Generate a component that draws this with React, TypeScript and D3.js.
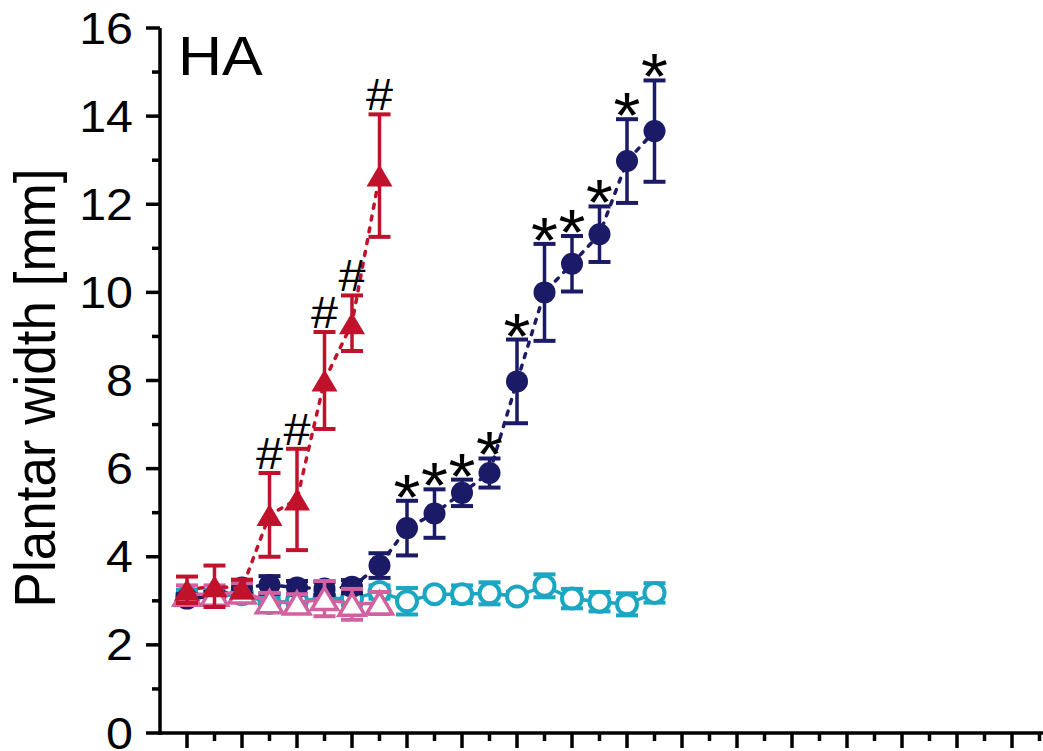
import React from "react";
import * as d3 from "d3";

const W = 1043;
const H = 751;

// x categories (time points)
const navyDays = [0, 1, 2, 3, 4, 5, 6, 7, 8, 9, 10, 11, 12, 13, 14, 15, 16, 17];
const navyMean = [3.05, 3.1, 3.3, 3.36, 3.3, 3.28, 3.32, 3.8, 4.65, 4.98, 5.45, 5.9, 7.98, 10.0, 10.65, 11.32, 12.98, 13.66];
const navyErr = [0.1, 0.1, 0.15, 0.2, 0.15, 0.15, 0.15, 0.28, 0.62, 0.55, 0.3, 0.33, 0.95, 1.1, 0.63, 0.63, 0.95, 1.15];

const cyanDays = [0, 1, 2, 3, 4, 5, 6, 7, 8, 9, 10, 11, 12, 13, 14, 15, 16, 17];
const cyanMean = [3.1, 3.1, 3.15, 2.95, 3.0, 3.05, 3.05, 3.2, 2.99, 3.15, 3.15, 3.17, 3.1, 3.34, 3.05, 2.98, 2.92, 3.18];
const cyanErr = [0.15, 0.15, 0.15, 0.15, 0.15, 0.15, 0.15, 0.15, 0.3, 0.1, 0.2, 0.25, 0.1, 0.26, 0.22, 0.22, 0.25, 0.22];

const redDays = [0, 1, 2, 3, 4, 5, 6, 7];
const redMean = [3.25, 3.33, 3.28, 4.95, 5.3, 8.0, 9.3, 12.65];
const redErr = [0.3, 0.47, 0.2, 0.95, 1.15, 1.1, 0.63, 1.39];

const pinkDays = [0, 1, 2, 3, 4, 5, 6, 7];
const pinkMean = [3.15, 3.15, 3.2, 2.98, 2.95, 3.05, 2.92, 2.95];
const pinkErr = [0.2, 0.2, 0.2, 0.2, 0.2, 0.4, 0.35, 0.25];

const hashDays = [3, 4, 5, 6, 7];
const starDays = [8, 9, 10, 11, 12, 13, 14, 15, 16, 17];

const yMajorTicks = [0, 2, 4, 6, 8, 10, 12, 14, 16];
const yMinorTicks = [1, 3, 5, 7, 9, 11, 13, 15];

const NAVY = "#1b1a66";
const RED = "#c1122c";
const CYAN = "#1ba6c2";
const PINK = "#d2619f";
const FONT = "'Liberation Sans', Arial, sans-serif";

const x = d3.scaleLinear().domain([-1, 31]).range([159.5, 1039.5]);
const y = d3.scaleLinear().domain([0, 16]).range([733, 28]);

type Pt = { d: number; m: number; e: number };
const zip = (ds: number[], ms: number[], es: number[]): Pt[] =>
  ds.map((d, i) => ({ d, m: ms[i], e: es[i] }));

const navy = zip(navyDays, navyMean, navyErr);
const cyan = zip(cyanDays, cyanMean, cyanErr);
const red = zip(redDays, redMean, redErr);
const pink = zip(pinkDays, pinkMean, pinkErr);

const line = d3
  .line<Pt>()
  .x((p) => x(p.d))
  .y((p) => y(p.m));

const tri = (cx: number, cy: number) =>
  `M${cx},${cy - 11}L${cx + 13},${cy + 11}L${cx - 13},${cy + 11}Z`;

function ErrBars({ data, color }: { data: Pt[]; color: string }) {
  return (
    <g stroke={color} strokeWidth={3.5} fill="none">
      {data.map((p, i) => {
        const cx = x(p.d);
        const t = y(p.m + p.e);
        const b = y(p.m - p.e);
        return (
          <g key={i}>
            <line x1={cx} x2={cx} y1={t} y2={b} />
            <line x1={cx - 11} x2={cx + 11} y1={t} y2={t} strokeWidth={4} />
            <line x1={cx - 11} x2={cx + 11} y1={b} y2={b} strokeWidth={4} />
          </g>
        );
      })}
    </g>
  );
}

export default function App() {
  const xTicks = d3.range(0, 32);
  return (
    <svg
      width={W}
      height={H}
      style={{ position: "absolute", left: 0, top: 0, display: "block", background: "#fff" }}
      fontFamily={FONT}
    >
      <rect x={0} y={0} width={W} height={H} fill="#fff" />

      {/* cyan series */}
      <path d={line(cyan) || ""} fill="none" stroke={CYAN} strokeWidth={3.5} />
      <ErrBars data={cyan} color={CYAN} />
      {cyan.map((p, i) => (
        <circle key={i} cx={x(p.d)} cy={y(p.m)} r={10} fill="#fff" stroke={CYAN} strokeWidth={4} />
      ))}

      {/* navy series */}
      <path
        d={line(navy) || ""}
        fill="none"
        stroke={NAVY}
        strokeWidth={3.5}
        strokeDasharray="4 8"
        strokeLinecap="round"
      />
      <ErrBars data={navy} color={NAVY} />
      {navy.map((p, i) => (
        <circle key={i} cx={x(p.d)} cy={y(p.m)} r={11} fill={NAVY} />
      ))}

      {/* pink series */}
      <path d={line(pink) || ""} fill="none" stroke={PINK} strokeWidth={3.5} />
      <ErrBars data={pink} color={PINK} />
      {pink.map((p, i) => (
        <path key={i} d={tri(x(p.d), y(p.m))} fill="#fff" stroke={PINK} strokeWidth={3.5} strokeLinejoin="miter" />
      ))}

      {/* red series */}
      <path
        d={line(red) || ""}
        fill="none"
        stroke={RED}
        strokeWidth={3.5}
        strokeDasharray="4 8"
        strokeLinecap="round"
      />
      <ErrBars data={red} color={RED} />
      {red.map((p, i) => (
        <path key={i} d={tri(x(p.d), y(p.m))} fill={RED} />
      ))}

      {/* significance marks */}
      {hashDays.map((d) => {
        const p = red.find((r) => r.d === d)!;
        const c = y(p.m + p.e) - 20;
        return (
          <text
            key={"h" + d}
            transform={`translate(${x(d)},${c + 16}) scale(1.08,1)`}
            textAnchor="middle"
            fontSize={45}
            fill="#000"
          >
            #
          </text>
        );
      })}
      {starDays.map((d) => {
        const p = navy.find((r) => r.d === d)!;
        const c = y(p.m + p.e) - 18;
        return (
          <text
            key={"s" + d}
            transform={`translate(${x(d)},${c + 37}) scale(1.08,1)`}
            textAnchor="middle"
            fontSize={64}
            fill="#000"
          >
            *
          </text>
        );
      })}

      {/* axes */}
      <g stroke="#000" strokeWidth={3.5}>
        <line x1={160} x2={160} y1={28} y2={735} />
        <line x1={158} x2={W} y1={733} y2={733} />
        {yMajorTicks.map((t) => (
          <line key={"ym" + t} x1={146} x2={160} y1={y(t)} y2={y(t)} />
        ))}
        {yMinorTicks.map((t) => (
          <line key={"yn" + t} x1={152} x2={160} y1={y(t)} y2={y(t)} />
        ))}
        {xTicks.map((t) => (
          <line key={"x" + t} x1={x(t)} x2={x(t)} y1={733} y2={t % 2 === 0 ? 748 : 741} />
        ))}
      </g>
      {yMajorTicks.map((t) => (
        <text
          key={"yl" + t}
          transform={`translate(133,${y(t) + 15.5}) scale(1.1,1)`}
          textAnchor="end"
          fontSize={44}
          fill="#000"
        >
          {t}
        </text>
      ))}
      <text
        transform={`translate(55,388) rotate(-90) scale(1,1.08)`}
        textAnchor="middle"
        fontSize={53}
        fill="#000"
      >
        Plantar width [mm]
      </text>
      <text transform="translate(178,75) scale(1.09,1)" fontSize={56} fill="#000">
        HA
      </text>
    </svg>
  );
}
